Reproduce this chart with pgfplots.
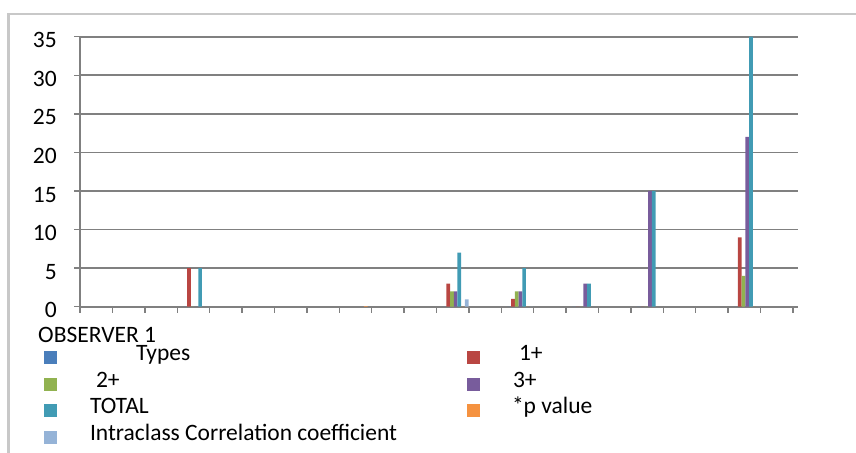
\documentclass[border=0pt]{standalone}
\usepackage{pgfplots}
\pgfplotsset{compat=1.18}
\usepackage{fontspec}
\setmainfont{Carlito}

\definecolor{gridgray}{RGB}{128,128,128}
\definecolor{framegray}{RGB}{200,200,200}
\definecolor{cTypes}{RGB}{74,126,187}
\definecolor{cOne}{RGB}{185,70,66}
\definecolor{cTwo}{RGB}{145,178,80}
\definecolor{cThree}{RGB}{120,92,156}
\definecolor{cTotal}{RGB}{65,155,180}
\definecolor{cP}{RGB}{245,146,64}
\definecolor{cIcc}{RGB}{149,179,215}

\pgfplotsset{
  xlbar/.style={fill=#1, draw=none,
    legend image code/.code={\fill[#1] (0bp,-6.5bp) rectangle (13bp,6.5bp);}},
}

\begin{document}
\fontsize{23.5bp}{27bp}\selectfont
\begin{tikzpicture}
\useasboundingbox (0,0) rectangle (856bp,453bp);
\draw[framegray, line width=2.5bp] (8.5bp,0) -- (8.5bp,439bp) -- (856bp,439bp);

\begin{axis}[
  scale only axis,
  width=718bp, height=270bp,
  at={(80bp,146.3bp)}, anchor=south west,
  xmin=-0.5, xmax=21.66,
  ymin=0, ymax=35,
  ybar=0pt, bar width=3.7bp,
  axis x line=bottom, axis y line=left,
  axis line style={-, gridgray, line width=1.8bp},
  xtick={-0.5,0.5,...,21.5}, xticklabels={},
  ytick={0,5,...,35},
  ymajorgrids,
  grid style={gridgray, line width=1.6bp},
  tick align=outside, major tick length=6bp,
  tick style={gridgray, line width=1.4bp},
  /pgf/number format/assume math mode=true,
  yticklabel style={anchor=east, inner sep=0pt, xshift=-17bp, yshift=-3.6bp},
  legend columns=2,
  legend cell align=left,
  legend style={at={(-0.0501,-0.1467)}, anchor=north west, draw=none,
    fill=none, inner sep=0pt, outer sep=0pt, column sep=0pt, row sep=4.8bp,
    nodes={inner sep=0pt, text height=14bp, text depth=8bp}},
]
\addplot[xlbar=cTypes, bar shift=-8.1bp] coordinates {(3,0) (11,0) (13,0) (15,0) (17,0) (20,0)};
\addlegendentry{\makebox[410bp][l]{\hspace*{79bp}Types}}
\addplot[xlbar=cOne, bar shift=-4.4bp] coordinates {(3,5) (11,3) (13,1) (15,0) (17,0) (20,9)};
\addlegendentry{\hspace*{39bp}1+}
\addplot[xlbar=cTwo, bar shift=-0.7bp] coordinates {(3,0) (11,2) (13,2) (15,0) (17,0) (20,4)};
\addlegendentry{\makebox[410bp][l]{\hspace*{39bp}2+}}
\addplot[xlbar=cThree, bar shift=3.0bp] coordinates {(3,0) (11,2) (13,2) (15,3) (17,15) (20,22)};
\addlegendentry{\hspace*{33bp}3+}
\addplot[xlbar=cTotal, bar shift=6.7bp] coordinates {(3,5) (11,7) (13,5) (15,3) (17,15) (20,35)};
\addlegendentry{\makebox[410bp][l]{\hspace*{33bp}TOTAL}}
\addplot[xlbar=cP, bar shift=10.4bp] coordinates {(8,0.08) (11,0) (13,0) (20,0)};
\addlegendentry{\hspace*{32bp}*p value}
\addplot[xlbar=cIcc, bar shift=14.1bp] coordinates {(11,0.95) (13,0) (20,0)};
\addlegendentry{\makebox[410bp][l]{\hspace*{33bp}Intraclass Correlation coefficient}}
\end{axis}

\node[anchor=base west, inner sep=0pt] at (38bp,110bp) {OBSERVER 1};
\end{tikzpicture}
\end{document}
